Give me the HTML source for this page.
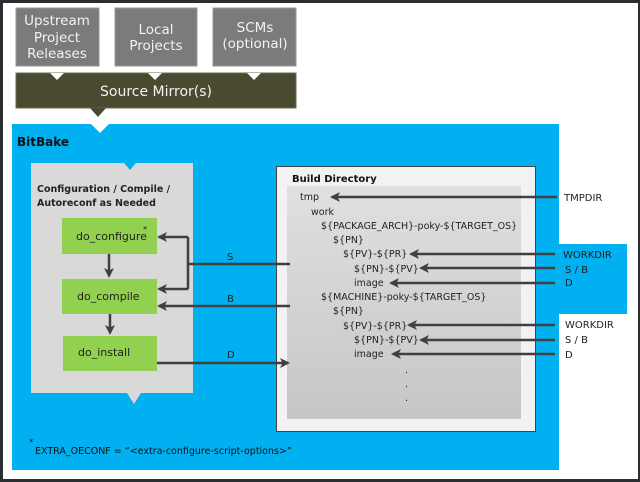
<!DOCTYPE html>
<html><head><meta charset="utf-8"><style>
html,body{margin:0;padding:0;background:#fff}
svg{display:block}
text{font-family:"DejaVu Sans","Liberation Sans",sans-serif}
</style></head><body>
<svg width="640" height="482" viewBox="0 0 640 482" xmlns="http://www.w3.org/2000/svg">
<defs>
<marker id="ah" markerWidth="4" markerHeight="4" refX="3.2" refY="2" orient="auto" markerUnits="strokeWidth"><path d="M0,0 L4,2 L0,4 L1,2 Z" fill="#404040"/></marker>
<linearGradient id="gg" x1="0" y1="0" x2="0" y2="1"><stop offset="0" stop-color="#e0e0e0"/><stop offset="1" stop-color="#c6c6c6"/></linearGradient>
</defs>
<rect x="0" y="0" width="640" height="482" fill="#2a2d31"/>
<rect x="3" y="3" width="635" height="476" fill="#fff"/>
<g fill="#7b7b7b" stroke="#999" stroke-width="1">
<rect x="16" y="8" width="83" height="58"/><rect x="115" y="8" width="82" height="58"/><rect x="213" y="8" width="83" height="58"/>
</g>
<rect x="16" y="73" width="280" height="35" fill="#4a4a30" stroke="#6b6b55"/>
<g fill="#fff"><path d="M50,73 L57,80 L64,73Z"/><path d="M148,73 L155,80 L162,73Z"/><path d="M247,73 L254,80 L261,73Z"/></g>
<path d="M90,108 L98,117 L106,108Z" fill="#4a4a30"/>
<g fill="#f2f2f2" font-size="13.5" text-anchor="middle">
<text x="57" y="25">Upstream</text><text x="57" y="42">Project</text><text x="57" y="58">Releases</text>
<text x="156" y="34">Local</text><text x="156" y="50">Projects</text>
<text x="255" y="32">SCMs</text><text x="255" y="48">(optional)</text>
<text x="156" y="96" font-size="14">Source Mirror(s)</text>
</g>
<rect x="12" y="124" width="547" height="346" fill="#00b0f0"/>
<rect x="559" y="244" width="68" height="70" fill="#00b0f0"/>
<path d="M91,124 L100,133 L109,124Z" fill="#fff"/>
<text x="17" y="146" font-size="12" font-weight="bold" fill="#111">BitBake</text>
<rect x="31" y="163" width="162" height="230" fill="#d9d9d9"/>
<path d="M124,163 L130,170 L136,163Z" fill="#00b0f0"/>
<path d="M127,393 L134,404 L141,393Z" fill="#d9d9d9"/>
<text x="37" y="192" font-size="9.5" font-weight="bold" fill="#222">Configuration / Compile /</text>
<text x="37" y="206" font-size="9.5" font-weight="bold" fill="#222">Autoreconf as Needed</text>
<g fill="#92d050"><rect x="62" y="218" width="95" height="36"/><rect x="62" y="279" width="95" height="35"/><rect x="63" y="336" width="94" height="35"/></g>
<g font-size="11" fill="#222"><text x="76" y="240">do_configure</text><text x="143" y="232" font-size="8">*</text>
<text x="77" y="300">do_compile</text><text x="78" y="356">do_install</text></g>
<rect x="276.5" y="166.5" width="259" height="265" fill="#f2f2f2" stroke="#444"/>
<rect x="287" y="186" width="234" height="233" fill="url(#gg)"/>
<text x="292" y="182" font-size="10" font-weight="bold" fill="#111">Build Directory</text>
<g font-size="9.5" fill="#222">
<text x="300" y="200">tmp</text><text x="311" y="215">work</text>
<text x="321" y="229">${PACKAGE_ARCH}-poky-${TARGET_OS}</text>
<text x="333" y="243">${PN}</text><text x="343" y="257">${PV}-${PR}</text>
<text x="354" y="272">${PN}-${PV}</text><text x="354" y="286">image</text>
<text x="321" y="300">${MACHINE}-poky-${TARGET_OS}</text>
<text x="333" y="314">${PN}</text><text x="343" y="329">${PV}-${PR}</text>
<text x="354" y="343">${PN}-${PV}</text><text x="354" y="357">image</text>
<text x="405" y="373">.</text><text x="405" y="387">.</text><text x="405" y="401">.</text>
</g>
<g stroke="#404040" stroke-width="2.5" fill="none" marker-end="url(#ah)">
<path d="M557,197 L332,197"/>
<path d="M555,254 L411,254"/><path d="M555,268 L421,268"/><path d="M555,283 L391,283"/>
<path d="M555,325 L409,325"/><path d="M555,340 L421,340"/><path d="M555,354 L393,354"/>
<path d="M188,237 L159,237"/><path d="M188,289 L159,289"/><path d="M290,306 L159,306"/>
<path d="M157,363 L288,363"/>
<path d="M109,254 L109,276"/><path d="M110,314 L110,333"/>
</g>
<path d="M188,237 L188,289 M188,264 L290,264" stroke="#404040" stroke-width="2.5" fill="none"/>
<g font-size="10" fill="#222"><text x="227" y="260">S</text><text x="227" y="302">B</text><text x="227" y="358">D</text></g>
<g font-size="10" fill="#222">
<text x="564" y="201">TMPDIR</text>
<text x="563" y="258">WORKDIR</text><text x="565" y="273">S / B</text><text x="565" y="286">D</text>
<text x="565" y="328">WORKDIR</text><text x="565" y="343">S / B</text><text x="565" y="358">D</text>
</g>
<text x="29" y="445" font-size="9" fill="#111">*</text>
<text x="35" y="454" font-size="9.5" fill="#111">EXTRA_OECONF = “&lt;extra-configure-script-options&gt;”</text>
</svg>
</body></html>
